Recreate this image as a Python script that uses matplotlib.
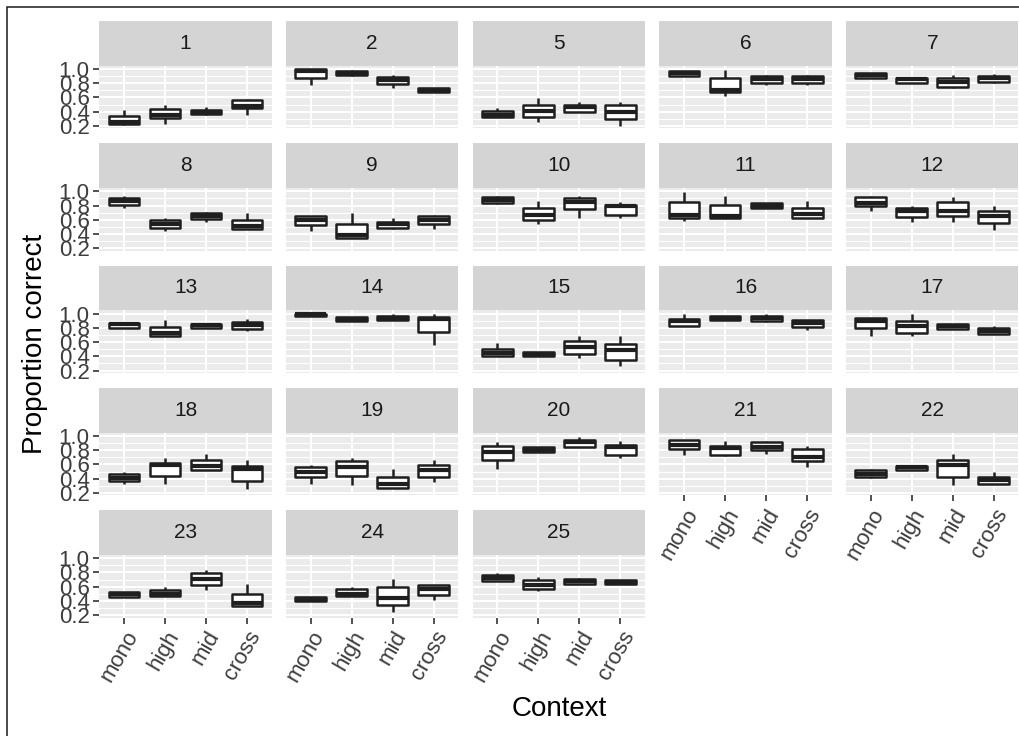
import matplotlib
matplotlib.use("Agg")
import matplotlib.pyplot as plt
from matplotlib.patches import Rectangle

plt.rcParams['font.family'] = ['Liberation Sans', 'DejaVu Sans']

contexts = ['mono', 'high', 'mid', 'cross']
items = [1, 2, 5, 6, 7, 8, 9, 10, 11, 12, 13, 14, 15, 16, 17,
         18, 19, 20, 21, 22, 23, 24, 25]

# Five-number summaries per item, one value per context (mono, high, mid, cross)
lower_whisker = [
    [0.22, 0.23, 0.36, 0.36], [0.77, 0.90, 0.74, 0.68], [0.33, 0.25, 0.39, 0.20],
    [0.90, 0.62, 0.77, 0.77], [0.88, 0.81, 0.74, 0.80], [0.77, 0.44, 0.57, 0.47],
    [0.44, 0.35, 0.47, 0.47], [0.82, 0.54, 0.63, 0.63], [0.58, 0.62, 0.77, 0.63],
    [0.73, 0.57, 0.57, 0.45], [0.80, 0.68, 0.80, 0.75], [0.97, 0.90, 0.91, 0.56],
    [0.41, 0.41, 0.37, 0.26], [0.82, 0.91, 0.88, 0.77], [0.68, 0.69, 0.78, 0.72],
    [0.33, 0.33, 0.52, 0.25], [0.33, 0.31, 0.27, 0.36], [0.53, 0.77, 0.84, 0.69],
    [0.73, 0.72, 0.75, 0.56], [0.41, 0.52, 0.31, 0.33], [0.45, 0.47, 0.55, 0.33],
    [0.40, 0.47, 0.25, 0.41], [0.68, 0.54, 0.64, 0.64],
]
lower_quartile = [
    [0.23, 0.31, 0.37, 0.45], [0.87, 0.91, 0.79, 0.68], [0.33, 0.32, 0.40, 0.30],
    [0.90, 0.68, 0.80, 0.80], [0.88, 0.81, 0.75, 0.82], [0.81, 0.49, 0.61, 0.47],
    [0.53, 0.35, 0.48, 0.54], [0.83, 0.60, 0.75, 0.67], [0.62, 0.62, 0.77, 0.63],
    [0.80, 0.64, 0.66, 0.56], [0.80, 0.68, 0.80, 0.78], [0.97, 0.90, 0.91, 0.74],
    [0.41, 0.41, 0.44, 0.35], [0.82, 0.91, 0.90, 0.81], [0.80, 0.73, 0.78, 0.72],
    [0.37, 0.44, 0.52, 0.37], [0.43, 0.44, 0.27, 0.43], [0.66, 0.77, 0.84, 0.73],
    [0.81, 0.73, 0.80, 0.65], [0.42, 0.52, 0.43, 0.33], [0.46, 0.47, 0.62, 0.33],
    [0.40, 0.47, 0.35, 0.49], [0.68, 0.57, 0.64, 0.64],
]
median = [
    [0.26, 0.36, 0.40, 0.48], [0.97, 0.94, 0.84, 0.71], [0.36, 0.41, 0.46, 0.40],
    [0.94, 0.71, 0.86, 0.86], [0.92, 0.86, 0.82, 0.87], [0.86, 0.54, 0.65, 0.52],
    [0.60, 0.39, 0.54, 0.60], [0.88, 0.67, 0.85, 0.79], [0.67, 0.66, 0.80, 0.68],
    [0.84, 0.72, 0.72, 0.66], [0.85, 0.73, 0.84, 0.84], [0.99, 0.93, 0.94, 0.92],
    [0.45, 0.43, 0.53, 0.49], [0.90, 0.94, 0.94, 0.87], [0.90, 0.82, 0.82, 0.76],
    [0.41, 0.59, 0.58, 0.53], [0.50, 0.57, 0.32, 0.52], [0.77, 0.80, 0.91, 0.84],
    [0.87, 0.83, 0.85, 0.70], [0.47, 0.56, 0.59, 0.38], [0.50, 0.50, 0.71, 0.37],
    [0.43, 0.50, 0.44, 0.57], [0.72, 0.63, 0.68, 0.67],
]
upper_quartile = [
    [0.34, 0.44, 0.43, 0.57], [1.00, 0.97, 0.89, 0.73], [0.41, 0.50, 0.50, 0.50],
    [0.97, 0.87, 0.90, 0.90], [0.94, 0.88, 0.87, 0.90], [0.91, 0.60, 0.70, 0.60],
    [0.65, 0.54, 0.57, 0.66], [0.92, 0.77, 0.90, 0.81], [0.85, 0.81, 0.83, 0.76],
    [0.92, 0.77, 0.85, 0.73], [0.87, 0.81, 0.86, 0.88], [1.00, 0.95, 0.97, 0.95],
    [0.51, 0.46, 0.61, 0.58], [0.93, 0.97, 0.97, 0.91], [0.94, 0.89, 0.85, 0.80],
    [0.46, 0.62, 0.66, 0.58], [0.56, 0.65, 0.42, 0.59], [0.86, 0.84, 0.94, 0.87],
    [0.94, 0.86, 0.91, 0.81], [0.52, 0.58, 0.66, 0.42], [0.53, 0.56, 0.79, 0.50],
    [0.46, 0.57, 0.59, 0.62], [0.77, 0.70, 0.71, 0.69],
]
upper_whisker = [
    [0.42, 0.49, 0.46, 0.58], [1.00, 0.99, 0.91, 0.73], [0.45, 0.59, 0.54, 0.54],
    [0.97, 0.99, 0.91, 0.92], [0.94, 0.88, 0.92, 0.93], [0.94, 0.62, 0.71, 0.69],
    [0.66, 0.69, 0.62, 0.67], [0.93, 0.87, 0.93, 0.85], [0.99, 0.93, 0.83, 0.86],
    [0.93, 0.80, 0.92, 0.80], [0.88, 0.91, 0.86, 0.92], [1.00, 0.95, 1.00, 1.00],
    [0.59, 0.46, 0.68, 0.68], [0.99, 0.97, 0.99, 0.91], [0.94, 0.99, 0.85, 0.82],
    [0.49, 0.69, 0.75, 0.66], [0.59, 0.69, 0.53, 0.66], [0.92, 0.85, 0.99, 0.93],
    [0.94, 0.93, 0.93, 0.86], [0.53, 0.58, 0.75, 0.49], [0.53, 0.60, 0.84, 0.64],
    [0.46, 0.60, 0.71, 0.63], [0.79, 0.74, 0.72, 0.69],
]

y_ticks = [0.2, 0.4, 0.6, 0.8, 1.0]
y_tick_labels = ['0.2', '0.4', '0.6', '0.8', '1.0']
y_minor = [0.3, 0.5, 0.7, 0.9]

W, H = 1019, 736
fig = plt.figure(figsize=(W / 100, H / 100), dpi=100)
fig.patch.set_facecolor('white')

# outer frame
fig.add_artist(Rectangle((7 / W, -0.1), 1.2, (H - 7) / H + 0.1, transform=fig.transFigure,
                         fill=False, edgecolor='#1a1a1a', linewidth=1.1))

ncol = 5
col_left, col_pitch, panel_w = 99.3, 186.7, 172.4
row_top, row_pitch, strip_h, plot_h = 21.0, 122.3, 44.7, 62.6

box_color = '#1f1f1f'
label_color = '#3d3d3d'
tick_size = 16
n = len(items)
for i, item in enumerate(items):
    r, c = divmod(i, ncol)
    x0 = col_left + c * col_pitch
    ys = row_top + r * row_pitch
    yp = ys + strip_h

    # facet strip
    sax = fig.add_axes([x0 / W, (H - ys - strip_h) / H, panel_w / W, strip_h / H])
    sax.set_facecolor('#d4d4d4')
    sax.set_xticks([]); sax.set_yticks([])
    for s in sax.spines.values():
        s.set_visible(False)
    sax.text(0.5, 0.5, str(item), ha='center', va='center', fontsize=15,
             color='#1a1a1a', transform=sax.transAxes)

    ax = fig.add_axes([x0 / W, (H - yp - plot_h) / H, panel_w / W, plot_h / H])
    ax.set_facecolor('#ebebeb')
    for s in ax.spines.values():
        s.set_visible(False)
    ax.set_xlim(0.4, 4.6)
    ax.set_ylim(0.168, 1.046)
    for v in y_minor:
        ax.axhline(v, color='white', linewidth=0.8, zorder=0.5)
    for v in y_ticks:
        ax.axhline(v, color='white', linewidth=1.5, zorder=0.6)
    for k in range(1, len(contexts) + 1):
        ax.axvline(k, color='white', linewidth=1.5, zorder=0.6)

    stats = []
    for j in range(len(contexts)):
        stats.append(dict(whislo=lower_whisker[i][j], q1=lower_quartile[i][j],
                          med=median[i][j], q3=upper_quartile[i][j],
                          whishi=upper_whisker[i][j], fliers=[]))
    ax.bxp(stats, positions=range(1, len(contexts) + 1), widths=0.75,
           patch_artist=True, showfliers=False, showcaps=False, manage_ticks=False,
           boxprops=dict(facecolor='white', edgecolor=box_color, linewidth=1.8,
                         joinstyle='round'),
           medianprops=dict(color=box_color, linewidth=3.0, solid_capstyle='butt'),
           whiskerprops=dict(color=box_color, linewidth=1.8, solid_capstyle='butt'))

    ax.set_xticks(range(1, len(contexts) + 1))
    bottom = (i + ncol >= n)
    if bottom:
        ax.set_xticklabels(contexts, rotation=60, ha='right', va='top',
                           rotation_mode='anchor', fontsize=tick_size, color=label_color)
        ax.tick_params(axis='x', length=4, width=1.2, color='#333333', pad=3)
    else:
        ax.set_xticklabels([])
        ax.tick_params(axis='x', length=0)
    ax.set_yticks(y_ticks)
    if c == 0:
        ax.set_yticklabels(y_tick_labels, fontsize=tick_size, color=label_color)
        ax.tick_params(axis='y', length=4, width=1.2, color='#333333', pad=3)
    else:
        ax.set_yticklabels([])
        ax.tick_params(axis='y', length=0)

fig.text(35 / W, 1 - 344 / H, 'Proportion correct', rotation=90, ha='center',
         va='center', fontsize=20, color='black')
fig.text(558.9 / W, 1 - 709 / H, 'Context', ha='center', va='center', fontsize=20,
         color='black')

fig.savefig('out.png', dpi=100)
